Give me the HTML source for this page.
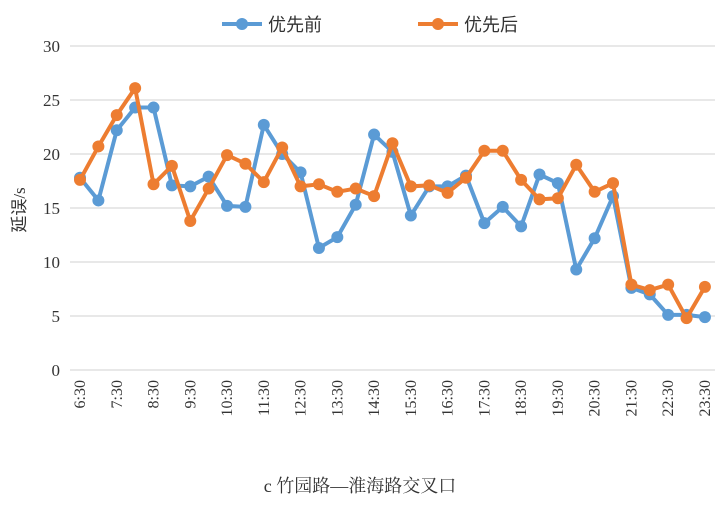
<!DOCTYPE html><html><head><meta charset="utf-8"><style>body{margin:0;background:#fff}svg{display:block}</style></head><body>
<svg width="720" height="507" xmlns="http://www.w3.org/2000/svg" font-family="Liberation Serif, Noto Serif CJK SC, serif">
<g stroke="#d9d9d9" stroke-width="1.3">
<line x1="70" y1="46" x2="715" y2="46"/><line x1="70" y1="100" x2="715" y2="100"/><line x1="70" y1="154" x2="715" y2="154"/><line x1="70" y1="208" x2="715" y2="208"/><line x1="70" y1="262" x2="715" y2="262"/><line x1="70" y1="316" x2="715" y2="316"/><line x1="70" y1="370" x2="715" y2="370"/>
</g>
<g font-size="17" fill="#333" text-anchor="end">
<text x="60" y="52">30</text><text x="60" y="106">25</text><text x="60" y="160">20</text><text x="60" y="214">15</text><text x="60" y="268">10</text><text x="60" y="322">5</text><text x="60" y="376">0</text>
</g>
<text transform="translate(25,210) rotate(-90)" font-size="17" fill="#333" text-anchor="middle" font-family="Liberation Serif, Noto Sans CJK SC, serif">延误/s</text>
<g id="xl" font-size="16" fill="#333" text-anchor="end"></g>
<g id="s"></g>
<g font-size="18" fill="#333" font-family="Liberation Sans, Noto Sans CJK SC, sans-serif">
<line x1="222" y1="24" x2="262" y2="24" stroke="#5b9bd5" stroke-width="4"/><circle cx="242" cy="24" r="6" fill="#5b9bd5"/><text x="268" y="31">优先前</text>
<line x1="418" y1="24" x2="458" y2="24" stroke="#ed7d31" stroke-width="4"/><circle cx="438" cy="24" r="6" fill="#ed7d31"/><text x="464" y="31">优先后</text>
</g>
<text x="360" y="492" font-size="18" fill="#333" text-anchor="middle" font-family="Liberation Serif, Noto Serif CJK SC, serif">c 竹园路—淮海路交叉口</text>
<script>
var b=[17.8,15.7,22.2,24.3,24.3,17.1,17.0,17.9,15.2,15.1,22.7,20.0,18.3,11.3,12.3,15.3,21.8,20.2,14.3,17.0,17.0,18.0,13.6,15.1,13.3,18.1,17.3,9.3,12.2,16.1,7.6,7.0,5.1,5.1,4.9];
var o=[17.6,20.7,23.6,26.1,17.2,18.9,13.8,16.8,19.9,19.1,17.4,20.6,17.0,17.2,16.5,16.8,16.1,21.0,17.0,17.1,16.4,17.8,20.3,20.3,17.6,15.8,15.9,19.0,16.5,17.3,7.9,7.4,7.9,4.8,7.7];
var ns="http://www.w3.org/2000/svg",s=document.getElementById('s'),xl=document.getElementById('xl');
function X(i){return 80+i*18.38}function Y(v){return 370-v*10.8}
function draw(d,c){var p=d.map(function(v,i){return X(i)+','+Y(v)}).join(' ');var l=document.createElementNS(ns,'polyline');l.setAttribute('points',p);l.setAttribute('fill','none');l.setAttribute('stroke',c);l.setAttribute('stroke-width','4');s.appendChild(l);d.forEach(function(v,i){var k=document.createElementNS(ns,'circle');k.setAttribute('cx',X(i));k.setAttribute('cy',Y(v));k.setAttribute('r','6');k.setAttribute('fill',c);s.appendChild(k);});}
draw(b,'#5b9bd5');draw(o,'#ed7d31');
for(var i=0;i<35;i+=2){var h=6+(i+1)/2|0;var t=document.createElementNS(ns,'text');var x=X(i)+5;t.setAttribute('transform','translate('+x+',380) rotate(-90)');t.textContent=(6+Math.floor((i+1)/2))+':30';xl.appendChild(t);}
</script>
</svg></body></html>
